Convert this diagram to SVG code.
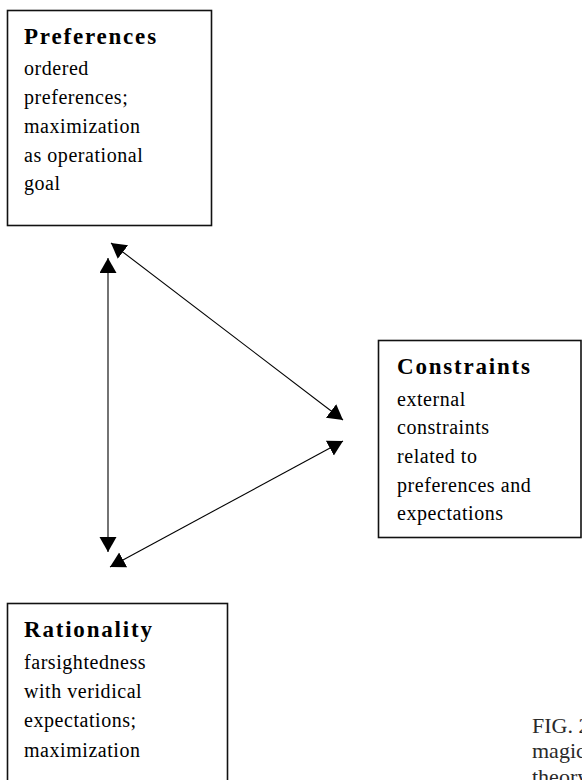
<svg xmlns="http://www.w3.org/2000/svg" width="582" height="780" viewBox="0 0 582 780">
<defs>
<style>
.box{fill:#fff;stroke:#111;stroke-width:1.6}
.title{font-family:"Liberation Serif","Times New Roman",serif;font-weight:bold;font-size:23px;letter-spacing:1.8px;fill:#000}
.body{font-family:"Liberation Serif","Times New Roman",serif;font-size:20px;letter-spacing:0.55px;fill:#000}
.cap{font-family:"Liberation Serif","Times New Roman",serif;font-size:22px;fill:#2a2a2a}
.conn{stroke:#000;stroke-width:1.1;fill:none;marker-start:url(#ah);marker-end:url(#ah)}
</style>
<marker id="ah" markerUnits="userSpaceOnUse" markerWidth="16" markerHeight="18" refX="15" refY="8.5" orient="auto-start-reverse" viewBox="0 0 16 18">
<path d="M0,0 L15,8.5 L0,17 Z" fill="#000"/>
</marker>
</defs>
<rect width="582" height="780" fill="#fff"/>
<g id="connectors">
<line class="conn" x1="108" y1="258" x2="108" y2="552"/>
<line class="conn" x1="111" y1="243" x2="343" y2="420"/>
<line class="conn" x1="343" y1="441" x2="110" y2="567"/>
</g>
<g id="preferences">
<rect class="box" x="7.5" y="10.5" width="204" height="215"/>
<text class="title" x="24" y="44">Preferences</text>
<text class="body" x="24" y="75">ordered</text>
<text class="body" x="24" y="104">preferences;</text>
<text class="body" x="24" y="133">maximization</text>
<text class="body" x="24" y="162">as operational</text>
<text class="body" x="24" y="190">goal</text>
</g>
<g id="constraints">
<rect class="box" x="378.5" y="340.5" width="202.5" height="197"/>
<text class="title" x="397" y="374">Constraints</text>
<text class="body" x="397" y="406">external</text>
<text class="body" x="397" y="434">constraints</text>
<text class="body" x="397" y="463">related to</text>
<text class="body" x="397" y="492">preferences and</text>
<text class="body" x="397" y="520">expectations</text>
</g>
<g id="rationality">
<rect class="box" x="7.5" y="603.5" width="220" height="200"/>
<text class="title" x="24" y="637">Rationality</text>
<text class="body" x="24" y="669">farsightedness</text>
<text class="body" x="24" y="698">with veridical</text>
<text class="body" x="24" y="727">expectations;</text>
<text class="body" x="24" y="757">maximization</text>
</g>
<g id="caption">
<text class="cap" x="532" y="733">FIG. 2</text>
<text class="cap" x="532" y="758">magic</text>
<text class="cap" x="532" y="784">theory</text>
</g>
</svg>
